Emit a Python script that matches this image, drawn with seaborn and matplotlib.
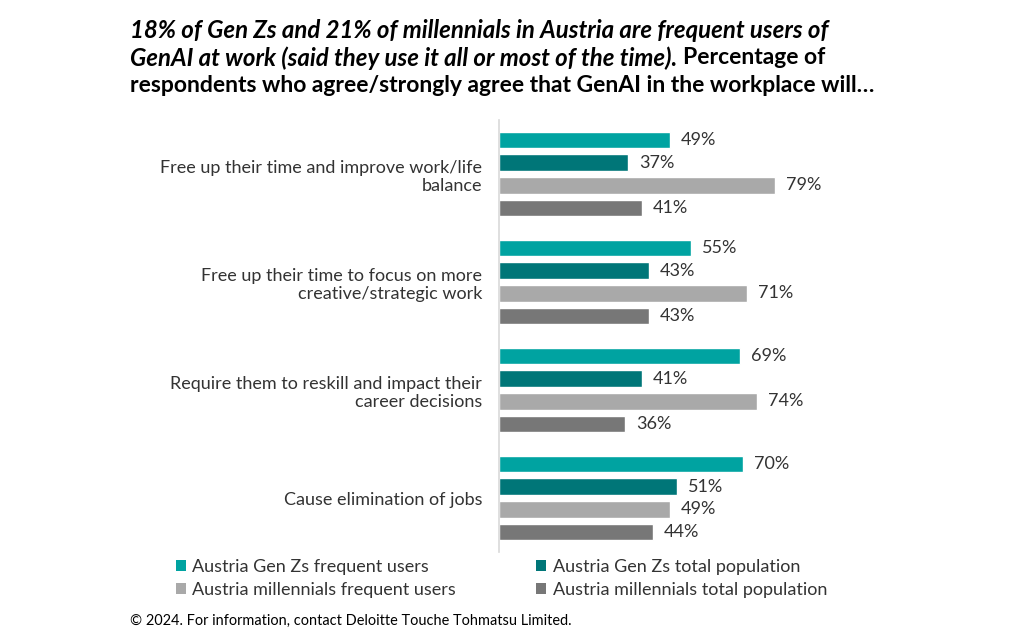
import matplotlib
matplotlib.use("Agg")
import matplotlib.pyplot as plt
from matplotlib.patches import Patch
import seaborn as sns
import pandas as pd

categories = [
    "Free up their time and improve work/life\nbalance",
    "Free up their time to focus on more\ncreative/strategic work",
    "Require them to reskill and impact their\ncareer decisions",
    "Cause elimination of jobs",
]
series_names = [
    "Austria Gen Zs frequent users",
    "Austria Gen Zs total population",
    "Austria millennials frequent users",
    "Austria millennials total population",
]
genz_frequent = [49, 55, 69, 70]
genz_total = [37, 43, 41, 51]
mill_frequent = [79, 71, 74, 49]
mill_total = [41, 43, 36, 44]
colors = ["#00A3A1", "#007678", "#A9A9A9", "#777777"]

values = [genz_frequent, genz_total, mill_frequent, mill_total]
rows = []
for s, vals in zip(series_names, values):
    for c, v in zip(categories, vals):
        rows.append({"category": c, "series": s, "value": v})
df = pd.DataFrame(rows)

sns.set_theme(style="white")
plt.rcParams["font.family"] = ["Lato", "DejaVu Sans"]
text_color = "#333333"

fig = plt.figure(figsize=(10.24, 6.36), dpi=100)
ax = fig.add_axes([499 / 1024, 1 - 552 / 636, 349 / 1024, 432 / 636])

sns.barplot(data=df, y="category", x="value", hue="series", order=categories,
            hue_order=series_names, palette=colors, orient="h",
            width=0.85, gap=0.3, ax=ax, legend=False, saturation=1)

for cont in ax.containers:
    ax.bar_label(cont, fmt="%d%%", padding=8, fontsize=13, color=text_color)

ax.set_xlim(0, 100)
ax.set_ylim(3.5, -0.5)
ax.set_xlabel("")
ax.set_ylabel("")
ax.set_xticks([])
ax.tick_params(axis="y", length=0, pad=12, labelsize=13, labelcolor=text_color)
for sp in ["top", "right", "bottom"]:
    ax.spines[sp].set_visible(False)
ax.spines["left"].set_color("#D9D9D9")
ax.spines["left"].set_linewidth(1.2)

# Title with mixed styles
fig.canvas.draw()
renderer = fig.canvas.get_renderer()
isize = 17.3
bsize = 16.5
x0 = 130 / 1024
fig.text(x0, 1 - 30 / 636, "18% of Gen Zs and 21% of millennials in Austria are frequent users of",
         fontsize=isize, fontweight="bold", fontstyle="italic", color="black", va="center")
t2 = fig.text(x0, 1 - 58 / 636, "GenAI at work (said they use it all or most of the time).",
              fontsize=isize, fontweight="bold", fontstyle="italic", color="black", va="center")
bb = t2.get_window_extent(renderer=renderer)
fig.text((bb.x1 + 6) / fig.bbox.width, 1 - 58 / 636, "Percentage of",
         fontsize=bsize, fontweight="bold", color="black", va="center")
fig.text(x0, 1 - 86 / 636, "respondents who agree/strongly agree that GenAI in the workplace will…",
         fontsize=bsize, fontweight="bold", color="black", va="center")

# Legend
handles = [Patch(facecolor=c, edgecolor="none") for c in colors]
order = [0, 2, 1, 3]
leg = fig.legend([handles[i] for i in order], [series_names[i] for i in order],
                 ncol=2, loc="upper left", bbox_to_anchor=(176 / 1024, 1 - 559 / 636),
                 frameon=False, fontsize=13, handlelength=0.55, handleheight=0.55,
                 handletextpad=0.35, columnspacing=4.45, labelspacing=0.4,
                 borderaxespad=0, borderpad=0)
for t in leg.get_texts():
    t.set_color(text_color)

fig.text(130 / 1024, 1 - 621 / 636, "© 2024. For information, contact Deloitte Touche Tohmatsu Limited.",
         fontsize=10.45, color="black", va="center")

fig.savefig("out.png", dpi=100)
